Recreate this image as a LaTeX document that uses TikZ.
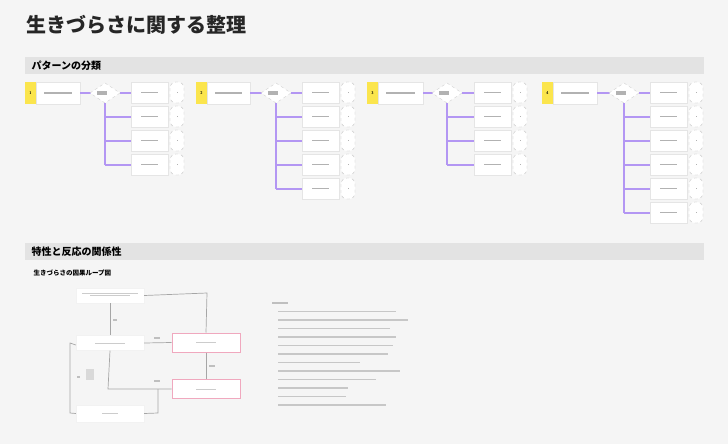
\documentclass[tikz,border=0pt]{standalone}
\usepackage{fontspec}
\newfontfamily\jp{Noto Sans CJK JP}
\definecolor{lav}{HTML}{B396F3}
\definecolor{pk}{HTML}{F0A8BE}
\definecolor{yel}{HTML}{FBE54D}
\begin{document}
\begin{tikzpicture}[x=1pt,y=-1pt,
  card/.style={draw=black!10,fill=white,line width=0.4pt},
  tab/.style={fill=yel,draw=none},
  pill/.style={draw=black!25,dashed,fill=white,rounded corners=6pt,line width=0.3pt},
  dia/.style={draw=black!20,dashed,fill=white,line width=0.3pt},
  tree/.style={draw=lav,line width=1.1pt},
  bar/.style={fill=black!30,draw=none},
  loopbox/.style={fill=white,draw=black!5},
  pinkbox/.style={fill=white,draw=pk,line width=1pt},
  edge/.style={draw=black!35,line width=0.7pt}]
\useasboundingbox[fill=black!4] (0,0) rectangle (728,444);
\node[anchor=west,font=\jp\bfseries\fontsize{20}{22}\selectfont,text=black!85] (title) at (23,25) {生きづらさに関する整理};
\fill[black!11] (25,57) rectangle (704,74);
\node[anchor=west,font=\jp\bfseries\fontsize{10}{11}\selectfont] (s1) at (28,65.5) {パターンの分類};
\fill[black!11] (25,243) rectangle (704,260);
\node[anchor=west,font=\jp\bfseries\fontsize{10}{11}\selectfont] (s2) at (28,251.5) {特性と反応の関係性};
% pattern groups
\foreach \tx/\bx/\dx/\cx/\n/\num in {25/80/105/131/4/1, 196/250/276/302/5/2, 367/423/447/474/4/3, 542/597/624/650/6/4}{
  \fill[tab] (\tx,82) rectangle (\tx+11,104);
  \node[font=\sffamily\bfseries\fontsize{4}{4}\selectfont] (n\num) at (\tx+5.5,93) {\num};
  \draw[card] (\tx+11,82) rectangle (\bx,104);
  \fill[bar] (\tx+19,92) rectangle (\bx-8,93.5);
  \draw[tree] (\bx,93) -- (\dx-14,93);
  \draw[dia] (\dx,83) -- (\dx+15,93) -- (\dx,103) -- (\dx-15,93) -- cycle;
  \fill[bar] (\dx-8,91) rectangle (\dx+2,95);
  \draw[tree] (\dx+15,93) -- (\cx,93);
  \draw[tree] (\dx,103) -- (\dx,{82+24*(\n-1)+11}) ;
  \foreach \i in {1,...,\n}{
    \pgfmathsetmacro\yy{82+24*(\i-1)}
    \ifnum\i>1 \draw[tree] (\dx,\yy+11) -- (\cx,\yy+11);\fi
    \draw[card] (\cx,\yy) rectangle (\cx+37,\yy+21);
    \fill[bar] (\cx+10,\yy+10) rectangle (\cx+27,\yy+11);
    \draw[pill] (\cx+39,\yy) rectangle (\cx+53,\yy+21);
    \fill[bar] (\cx+45.5,\yy+10) rectangle (\cx+46.5,\yy+11);
  }
}
% causal loop
\node[anchor=west,font=\jp\bfseries\fontsize{6.5}{7}\selectfont] (sub) at (30,273) {生きづらさの因果ループ図};
\node[loopbox,minimum width=68pt,minimum height=15pt] (a) at (110,295.5) {};
\node[loopbox,minimum width=68pt,minimum height=15pt] (b) at (110,343) {};
\node[pinkbox,minimum width=68pt,minimum height=19pt] (c) at (206,342.5) {};
\node[pinkbox,minimum width=68pt,minimum height=19pt] (d) at (206,389) {};
\node[loopbox,minimum width=68pt,minimum height=17pt] (e) at (110,413.5) {};
\foreach \nd/\w in {a/40,b/30,c/20,d/20,e/16}{\fill[black!20] ([xshift=-\w/2 pt,yshift=-0.5pt]\nd.center) rectangle ([xshift=\w/2 pt,yshift=0.5pt]\nd.center);}
\fill[black!20] ([xshift=-28pt,yshift=3pt]a.center) rectangle ([xshift=28pt,yshift=2pt]a.center);
\draw[edge] (a.east) -- (207,293) -- (c.north);
\draw[edge] (a.south) -- (b.north);
\draw[edge] (b.east) -- (c.west);
\draw[edge] (c.south) -- (d.north);
\draw[edge] (b.south) -- (108,389) -- (d.west);
\draw[edge] (e.east) -- (158,413) -- (158,389);
\draw[edge] ([yshift=-2pt]b.west) -- (70,343) -- (70,413) -- (e.west);
\foreach \x/\y/\w in {115/320/4,157/338/6,212/366/6,157/381/6,78/377/3}{\fill[black!25] (\x-\w/2,\y-1) rectangle (\x+\w/2,\y+1);}
\fill[black!15] (86,369) rectangle (94,380);
% text block
\fill[black!25] (272,302) rectangle (288,304);
\foreach \i/\w in {1/118,2/130,3/112,4/118,5/115,6/110,7/82,8/122,9/98,10/70,11/68,12/108}{
  \fill[black!22] (278,{302+8.5*\i}) rectangle ({278+\w},{303.5+8.5*\i});}
\end{tikzpicture}
\end{document}
